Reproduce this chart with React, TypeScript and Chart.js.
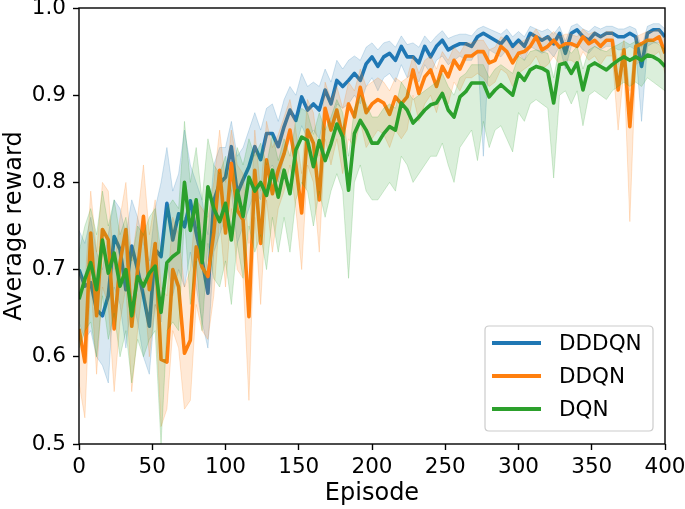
import React, { useEffect, useRef } from "react";
import { Chart, registerables } from "chart.js";
Chart.register(...registerables);

// Episodes sampled every 4 steps (0..400)
const EPISODES: number[] = Array.from({ length: 101 }, (_, i) => i * 4);

const SERIES_NAMES = ["DDDQN", "DDQN", "DQN"];
const SERIES_COLORS = ["#1f77b4", "#ff7f0e", "#2ca02c"];
const SERIES_RGB = ["31,119,180", "255,127,14", "44,160,44"];

const X_TICKS = [0, 50, 100, 150, 200, 250, 300, 350, 400];
const Y_TICKS = [0.5, 0.6, 0.7, 0.8, 0.9, 1.0];

const DDDQN_MEAN = [
  0.700,0.681,0.685,0.654,0.647,0.670,0.738,0.723,0.677,0.727,0.700,0.670,0.635,0.723,0.715,0.776,0.734,
  0.764,0.749,0.779,0.742,0.711,0.673,0.779,0.799,0.806,0.841,0.787,0.803,0.818,0.841,0.826,0.856,0.856,
  0.841,0.864,0.883,0.871,0.898,0.883,0.890,0.883,0.906,0.890,0.917,0.910,0.917,0.925,0.917,0.936,0.944,
  0.933,0.944,0.948,0.940,0.956,0.944,0.944,0.937,0.956,0.944,0.956,0.963,0.952,0.956,0.959,0.959,0.956,
  0.967,0.971,0.967,0.963,0.959,0.967,0.956,0.963,0.956,0.971,0.967,0.963,0.967,0.959,0.971,0.948,
  0.971,0.975,0.967,0.963,0.971,0.967,0.971,0.971,0.967,0.967,0.971,0.967,0.933,0.971,0.975,0.975,0.967,
];
const DDDQN_HIGH = [
  0.745,0.730,0.760,0.720,0.700,0.740,0.780,0.770,0.740,0.780,0.760,0.730,0.710,0.770,0.800,0.840,0.790,
  0.810,0.860,0.820,0.800,0.780,0.740,0.820,0.840,0.840,0.870,0.830,0.840,0.860,0.880,0.860,0.885,0.890,
  0.870,0.895,0.910,0.900,0.925,0.910,0.915,0.910,0.930,0.915,0.940,0.930,0.940,0.945,0.940,0.955,0.960,
  0.952,0.960,0.962,0.955,0.968,0.958,0.960,0.955,0.968,0.960,0.968,0.974,0.965,0.968,0.970,0.970,0.968,
  0.976,0.979,0.976,0.973,0.970,0.976,0.967,0.973,0.967,0.979,0.976,0.973,0.976,0.970,0.979,0.962,
  0.979,0.982,0.976,0.973,0.979,0.976,0.979,0.979,0.976,0.976,0.979,0.976,0.955,0.979,0.982,0.982,0.976,
];
const DDDQN_LOW = [
  0.640,0.620,0.630,0.600,0.590,0.570,0.680,0.660,0.610,0.670,0.640,0.600,0.580,0.660,0.640,0.710,0.670,
  0.700,0.680,0.720,0.680,0.640,0.610,0.720,0.740,0.760,0.790,0.730,0.750,0.770,0.790,0.780,0.810,0.820,
  0.800,0.830,0.850,0.840,0.865,0.850,0.860,0.850,0.880,0.860,0.890,0.885,0.890,0.900,0.890,0.910,0.920,
  0.905,0.920,0.925,0.915,0.935,0.920,0.925,0.915,0.935,0.925,0.940,0.945,0.935,0.940,0.945,0.940,0.940,
  0.952,0.830,0.952,0.948,0.944,0.952,0.940,0.948,0.940,0.956,0.952,0.948,0.952,0.944,0.956,0.930,
  0.956,0.960,0.952,0.948,0.956,0.952,0.956,0.956,0.952,0.952,0.956,0.952,0.870,0.956,0.960,0.960,0.952,
];

const DDQN_MEAN = [
  0.632,0.594,0.742,0.647,0.746,0.734,0.632,0.708,0.746,0.635,0.700,0.761,0.677,0.730,0.597,0.594,0.700,
  0.680,0.604,0.619,0.726,0.703,0.692,0.742,0.814,0.742,0.822,0.768,0.757,0.646,0.814,0.730,0.826,0.787,
  0.814,0.833,0.860,0.821,0.765,0.860,0.845,0.780,0.885,0.860,0.883,0.852,0.890,0.875,0.909,0.880,0.890,
  0.895,0.891,0.878,0.898,0.890,0.898,0.929,0.902,0.921,0.929,0.910,0.933,0.921,0.940,0.930,0.945,0.945,
  0.950,0.950,0.937,0.940,0.956,0.950,0.937,0.948,0.950,0.956,0.967,0.952,0.956,0.963,0.955,0.959,
  0.959,0.956,0.967,0.959,0.963,0.956,0.963,0.963,0.906,0.952,0.864,0.956,0.959,0.963,0.963,0.967,0.948,
];
const DDQN_HIGH = [
  0.700,0.680,0.790,0.720,0.800,0.790,0.700,0.760,0.800,0.710,0.760,0.820,0.740,0.780,0.680,0.670,0.760,
  0.740,0.680,0.700,0.780,0.770,0.760,0.800,0.860,0.800,0.860,0.820,0.810,0.730,0.860,0.790,0.870,0.840,
  0.855,0.875,0.895,0.860,0.810,0.895,0.880,0.830,0.915,0.895,0.910,0.885,0.915,0.905,0.930,0.910,0.915,
  0.920,0.915,0.905,0.920,0.915,0.920,0.945,0.925,0.940,0.945,0.930,0.950,0.940,0.955,0.948,0.960,0.960,
  0.963,0.963,0.952,0.955,0.967,0.963,0.952,0.960,0.963,0.967,0.976,0.965,0.967,0.973,0.967,0.970,
  0.970,0.967,0.976,0.970,0.973,0.967,0.973,0.973,0.935,0.963,0.905,0.967,0.970,0.973,0.973,0.976,0.962,
];
const DDQN_LOW = [
  0.570,0.530,0.690,0.580,0.680,0.660,0.560,0.640,0.680,0.560,0.630,0.690,0.600,0.660,0.520,0.540,0.630,
  0.610,0.540,0.550,0.660,0.630,0.620,0.670,0.760,0.680,0.770,0.700,0.690,0.550,0.760,0.660,0.780,0.720,
  0.770,0.790,0.820,0.770,0.700,0.820,0.800,0.720,0.850,0.820,0.850,0.810,0.850,0.840,0.870,0.840,0.850,
  0.860,0.855,0.840,0.860,0.850,0.860,0.900,0.870,0.890,0.900,0.880,0.905,0.890,0.915,0.905,0.920,0.920,
  0.925,0.920,0.910,0.915,0.930,0.925,0.910,0.925,0.930,0.935,0.945,0.930,0.935,0.945,0.935,0.940,
  0.940,0.935,0.950,0.940,0.945,0.935,0.945,0.945,0.860,0.930,0.755,0.935,0.940,0.945,0.945,0.950,0.925,
];

const DQN_MEAN = [
  0.666,0.689,0.708,0.677,0.734,0.696,0.719,0.681,0.700,0.647,0.692,0.681,0.696,0.704,0.651,0.708,0.715,
  0.720,0.800,0.745,0.780,0.708,0.795,0.770,0.755,0.776,0.734,0.791,0.761,0.806,0.790,0.800,0.785,0.814,
  0.783,0.814,0.787,0.837,0.852,0.848,0.818,0.848,0.825,0.844,0.867,0.852,0.791,0.856,0.871,0.860,0.845,
  0.845,0.856,0.864,0.860,0.891,0.883,0.868,0.875,0.883,0.889,0.891,0.902,0.883,0.875,0.898,0.904,0.914,
  0.914,0.914,0.898,0.906,0.912,0.906,0.900,0.925,0.917,0.929,0.933,0.931,0.927,0.891,0.935,0.937,
  0.925,0.937,0.906,0.933,0.937,0.933,0.929,0.935,0.940,0.944,0.940,0.944,0.940,0.946,0.944,0.940,0.933,
];
const DQN_HIGH = [
  0.720,0.750,0.770,0.740,0.790,0.750,0.780,0.740,0.760,0.710,0.750,0.740,0.760,0.770,0.720,0.770,0.780,
  0.770,0.870,0.800,0.840,0.780,0.850,0.820,0.810,0.830,0.790,0.840,0.820,0.850,0.830,0.845,0.820,0.855,
  0.825,0.850,0.830,0.870,0.885,0.880,0.855,0.880,0.860,0.875,0.895,0.880,0.830,0.885,0.900,0.890,0.875,
  0.875,0.885,0.890,0.885,0.915,0.905,0.895,0.900,0.905,0.910,0.915,0.925,0.910,0.900,0.920,0.925,0.935,
  0.935,0.935,0.920,0.930,0.935,0.930,0.925,0.945,0.940,0.950,0.952,0.950,0.948,0.920,0.955,0.956,
  0.948,0.956,0.930,0.952,0.956,0.952,0.950,0.955,0.958,0.962,0.958,0.962,0.958,0.964,0.962,0.958,0.952,
];
const DQN_LOW = [
  0.610,0.630,0.640,0.600,0.670,0.620,0.650,0.600,0.630,0.570,0.620,0.600,0.620,0.630,0.500,0.630,0.640,
  0.630,0.760,0.660,0.710,0.630,0.730,0.690,0.680,0.710,0.660,0.730,0.690,0.750,0.720,0.740,0.700,0.760,
  0.720,0.760,0.720,0.780,0.800,0.790,0.750,0.790,0.760,0.790,0.810,0.790,0.690,0.800,0.820,0.790,0.780,
  0.780,0.790,0.800,0.790,0.830,0.820,0.800,0.810,0.820,0.830,0.830,0.845,0.820,0.800,0.840,0.850,0.860,
  0.825,0.870,0.840,0.860,0.865,0.850,0.835,0.880,0.870,0.890,0.895,0.890,0.885,0.805,0.900,0.905,
  0.890,0.905,0.865,0.900,0.905,0.900,0.895,0.905,0.910,0.915,0.910,0.915,0.910,0.920,0.915,0.910,0.905,
];

const MEANS = [DDDQN_MEAN, DDQN_MEAN, DQN_MEAN];
const HIGHS = [DDDQN_HIGH, DDQN_HIGH, DQN_HIGH];
const LOWS = [DDDQN_LOW, DDQN_LOW, DQN_LOW];

const FONT = "'DejaVu Sans', sans-serif";

const toPoints = (vals: number[]) => vals.map((y, i) => ({ x: EPISODES[i], y }));

const frameAndLegend = {
  id: "frameAndLegend",
  afterDraw(chart: any) {
    const { ctx, chartArea } = chart;
    ctx.save();
    ctx.strokeStyle = "#000";
    ctx.lineWidth = 1.4;
    ctx.strokeRect(
      chartArea.left,
      chartArea.top,
      chartArea.right - chartArea.left,
      chartArea.bottom - chartArea.top
    );
    // legend box
    const w = 168;
    const h = 105;
    const x = chartArea.right - 12 - w;
    const y = chartArea.bottom - 13 - h;
    const r = 4;
    ctx.beginPath();
    ctx.moveTo(x + r, y);
    ctx.lineTo(x + w - r, y);
    ctx.quadraticCurveTo(x + w, y, x + w, y + r);
    ctx.lineTo(x + w, y + h - r);
    ctx.quadraticCurveTo(x + w, y + h, x + w - r, y + h);
    ctx.lineTo(x + r, y + h);
    ctx.quadraticCurveTo(x, y + h, x, y + h - r);
    ctx.lineTo(x, y + r);
    ctx.quadraticCurveTo(x, y, x + r, y);
    ctx.closePath();
    ctx.fillStyle = "rgba(255,255,255,0.8)";
    ctx.fill();
    ctx.strokeStyle = "#cccccc";
    ctx.lineWidth = 1.2;
    ctx.stroke();
    ctx.font = `21.5px ${FONT}`;
    ctx.textBaseline = "middle";
    ctx.textAlign = "left";
    SERIES_NAMES.forEach((name, i) => {
      const cy = y + 17 + 33 * i;
      ctx.beginPath();
      ctx.strokeStyle = SERIES_COLORS[i];
      ctx.lineWidth = 3.8;
      ctx.moveTo(x + 7, cy);
      ctx.lineTo(x + 56, cy);
      ctx.stroke();
      ctx.fillStyle = "#000";
      ctx.fillText(name, x + 74, cy + 1);
    });
    ctx.restore();
  },
};

export default function App() {
  const ref = useRef<HTMLCanvasElement | null>(null);

  useEffect(() => {
    if (!ref.current) return;
    const datasets: any[] = [];
    SERIES_NAMES.forEach((name, s) => {
      const rgb = SERIES_RGB[s];
      const baseOrder = (2 - s) * 2;
      datasets.push({
        label: name + " high",
        data: toPoints(HIGHS[s]),
        borderColor: `rgba(${rgb},0.2)`,
        backgroundColor: `rgba(${rgb},0.17)`,
        borderWidth: 1,
        pointRadius: 0,
        fill: "+1",
        order: baseOrder + 1,
        tension: 0,
      });
      datasets.push({
        label: name + " low",
        data: toPoints(LOWS[s]),
        borderColor: `rgba(${rgb},0.2)`,
        backgroundColor: `rgba(${rgb},0.17)`,
        borderWidth: 1,
        pointRadius: 0,
        fill: false,
        order: baseOrder + 1,
        tension: 0,
      });
      datasets.push({
        label: name,
        data: toPoints(MEANS[s]),
        borderColor: SERIES_COLORS[s],
        backgroundColor: SERIES_COLORS[s],
        borderWidth: 3.6,
        pointRadius: 0,
        fill: false,
        order: baseOrder,
        tension: 0,
      });
    });

    const chart = new Chart(ref.current, {
      type: "line",
      data: { datasets },
      plugins: [frameAndLegend],
      options: {
        animation: false,
        responsive: false,
        devicePixelRatio: 1,
        layout: { padding: { left: 0, right: 20, top: 8, bottom: 0 } },
        plugins: { legend: { display: false }, tooltip: { enabled: false } },
        elements: { line: { borderJoinStyle: "round", borderCapStyle: "butt" } },
        scales: {
          x: {
            type: "linear",
            min: 0,
            max: 400,
            afterBuildTicks: (scale: any) => {
              scale.ticks = X_TICKS.map((v) => ({ value: v }));
            },
            afterFit: (scale: any) => {
              scale.height = 65;
              scale.paddingLeft = 0;
              scale.paddingRight = 0;
            },
            ticks: {
              color: "#000",
              font: { family: FONT, size: 21.5 },
              padding: 5,
              maxRotation: 0,
              autoSkip: false,
            },
            grid: {
              display: true,
              drawOnChartArea: false,
              drawTicks: true,
              tickLength: 6,
              tickColor: "#000",
              tickWidth: 1.4,
            },
            border: { display: false },
            title: {
              display: true,
              text: "Episode",
              color: "#000",
              font: { family: FONT, size: 24 },
              padding: { top: 0, bottom: 1 },
            },
          },
          y: {
            type: "linear",
            min: 0.5,
            max: 1.0,
            afterBuildTicks: (scale: any) => {
              scale.ticks = Y_TICKS.map((v) => ({ value: v }));
            },
            afterFit: (scale: any) => {
              scale.width = 79;
              scale.paddingTop = 0;
              scale.paddingBottom = 0;
            },
            ticks: {
              color: "#000",
              font: { family: FONT, size: 21.5 },
              padding: 7,
              callback: (v: any) => Number(v).toFixed(1),
            },
            grid: {
              display: true,
              drawOnChartArea: false,
              drawTicks: true,
              tickLength: 6,
              tickColor: "#000",
              tickWidth: 1.4,
            },
            border: { display: false },
            title: {
              display: true,
              text: "Average reward",
              color: "#000",
              font: { family: FONT, size: 24 },
              padding: { top: 0, bottom: 0 },
            },
          },
        },
      },
    });
    return () => chart.destroy();
  }, []);

  return (
    <div style={{ position: "absolute", left: 0, top: 0, width: 685, height: 509, background: "#fff" }}>
      <canvas ref={ref} width={685} height={509} style={{ width: 685, height: 509 }} />
    </div>
  );
}
